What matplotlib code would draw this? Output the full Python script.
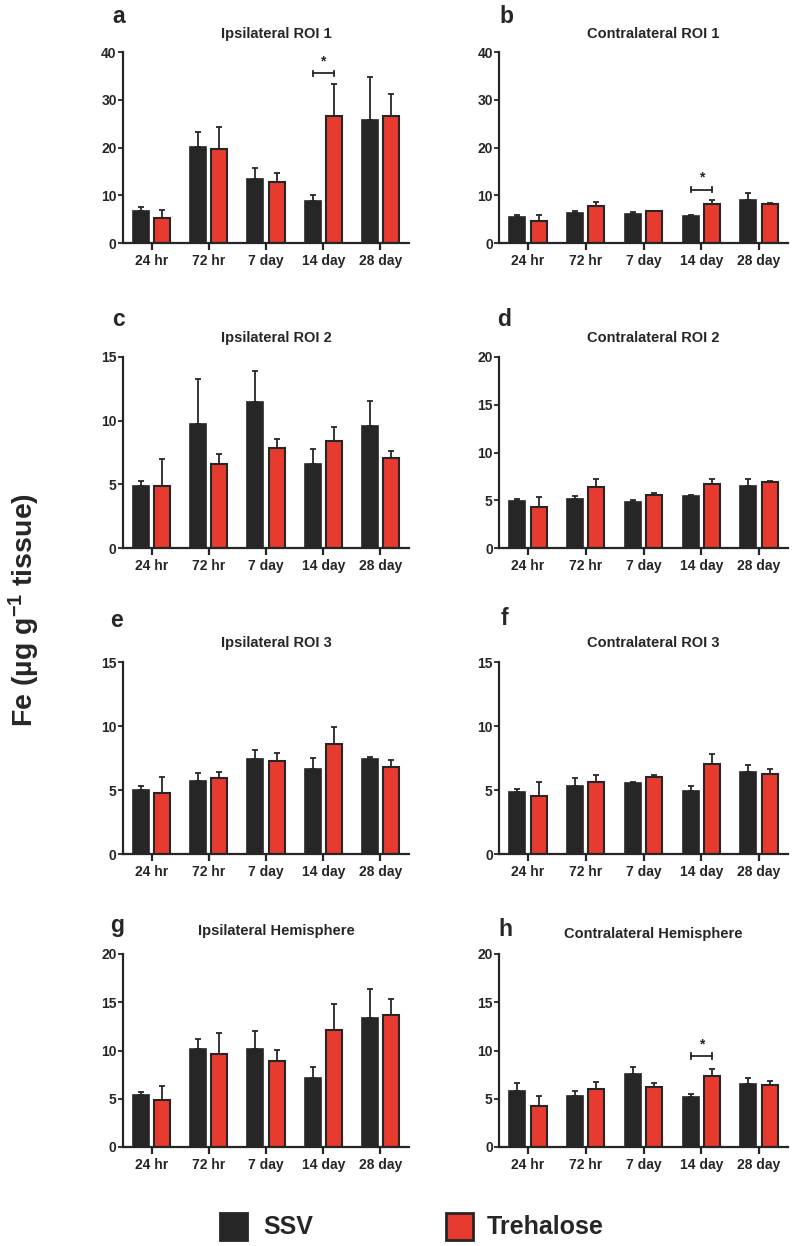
import matplotlib
matplotlib.use("Agg")
import matplotlib.pyplot as plt
from matplotlib.patches import Rectangle
import numpy as np

plt.rcParams['font.family'] = ['Liberation Sans', 'DejaVu Sans']
plt.rcParams['font.weight'] = 'bold'
plt.rcParams['mathtext.fontset'] = 'custom'
plt.rcParams['mathtext.rm'] = 'Liberation Sans:bold'
plt.rcParams['mathtext.it'] = 'Liberation Sans:bold'
plt.rcParams['mathtext.bf'] = 'Liberation Sans:bold'

categories = ["24 hr", "72 hr", "7 day", "14 day", "28 day"]
series_names = ["SSV", "Trehalose"]

titles = ["Ipsilateral ROI 1", "Contralateral ROI 1",
          "Ipsilateral ROI 2", "Contralateral ROI 2",
          "Ipsilateral ROI 3", "Contralateral ROI 3",
          "Ipsilateral Hemisphere", "Contralateral Hemisphere"]
letters = ["a", "b", "c", "d", "e", "f", "g", "h"]
ymaxes = [40, 40, 15, 20, 15, 15, 20, 20]
ysteps = [10, 10, 5, 5, 5, 5, 5, 5]

# panel a
ssv_a = [6.6, 20.2, 13.3, 8.9, 25.8]
ssv_a_err = [1.0, 3.1, 2.5, 1.2, 9.0]
tre_a = [5.2, 19.6, 12.7, 26.6, 26.6]
tre_a_err = [1.7, 4.6, 2.0, 6.6, 4.7]
# panel b
ssv_b = [5.5, 6.2, 6.1, 5.6, 9.0]
ssv_b_err = [0.3, 0.45, 0.4, 0.2, 1.5]
tre_b = [4.6, 7.7, 6.6, 8.2, 8.2]
tre_b_err = [1.25, 0.9, 0.2, 0.8, 0.1]
# panel c
ssv_c = [4.88, 9.7, 11.43, 6.57, 9.6]
ssv_c_err = [0.39, 3.55, 2.45, 1.23, 1.96]
tre_c = [4.83, 6.6, 7.88, 8.4, 7.07]
tre_c_err = [2.14, 0.8, 0.65, 1.07, 0.57]
# panel d
ssv_d = [4.94, 5.08, 4.83, 5.43, 6.47]
ssv_d_err = [0.21, 0.38, 0.17, 0.1, 0.73]
tre_d = [4.31, 6.4, 5.6, 6.68, 6.89]
tre_d_err = [1.08, 0.83, 0.2, 0.55, 0.17]
# panel e
ssv_e = [4.97, 5.7, 7.4, 6.64, 7.4]
ssv_e_err = [0.34, 0.6, 0.7, 0.86, 0.18]
tre_e = [4.79, 5.91, 7.29, 8.62, 6.8]
tre_e_err = [1.25, 0.49, 0.63, 1.28, 0.54]
# panel f
ssv_f = [4.87, 5.31, 5.52, 4.95, 6.4]
ssv_f_err = [0.23, 0.65, 0.08, 0.34, 0.55]
tre_f = [4.53, 5.65, 6.02, 7.03, 6.28]
tre_f_err = [1.1, 0.55, 0.18, 0.78, 0.33]
# panel g
ssv_g = [5.37, 10.2, 10.2, 7.1, 13.38]
ssv_g_err = [0.28, 1.0, 1.86, 1.15, 2.98]
tre_g = [4.89, 9.67, 8.94, 12.1, 13.69]
tre_g_err = [1.45, 2.13, 1.16, 2.67, 1.67]
# panel h
ssv_h = [5.79, 5.28, 7.52, 5.21, 6.55]
ssv_h_err = [0.87, 0.48, 0.82, 0.24, 0.62]
tre_h = [4.24, 5.97, 6.2, 7.31, 6.45]
tre_h_err = [1.04, 0.72, 0.42, 0.79, 0.38]

ssv_all = [ssv_a, ssv_b, ssv_c, ssv_d, ssv_e, ssv_f, ssv_g, ssv_h]
ssv_err_all = [ssv_a_err, ssv_b_err, ssv_c_err, ssv_d_err, ssv_e_err, ssv_f_err, ssv_g_err, ssv_h_err]
tre_all = [tre_a, tre_b, tre_c, tre_d, tre_e, tre_f, tre_g, tre_h]
tre_err_all = [tre_a_err, tre_b_err, tre_c_err, tre_d_err, tre_e_err, tre_f_err, tre_g_err, tre_h_err]

# significance: panel index -> (category index, bracket height)
sig_panels = {0: (3, 35.5), 1: (3, 11.2), 7: (3, 9.4)}

C_SSV = "#262626"
C_TRE = "#E83B30"

W, H = 793, 1246
fig = plt.figure(figsize=(W / 100, H / 100), dpi=100)

col_left = [123, 499]
col_width = [286, 289]
row_top = [52, 357, 662, 954]
row_bot = [243, 548, 854, 1147]
# layout of text (pixels): title baseline gap above axes, letter baseline gap, letter x
title_gap = [14, 14, 15, 15, 15, 15, 19, 16]
letter_gap = [29, 29, 31, 31, 35, 37, 22, 18]
letter_x = [112, 499, 112, 497, 110, 501, 110, 498]

bw = 0.28
off = 0.185

for i in range(8):
    r, c = divmod(i, 2)
    l = col_left[c] / W
    b = 1 - row_bot[r] / H
    w = col_width[c] / W
    hp = row_bot[r] - row_top[r]
    h = hp / H
    ax = fig.add_axes([l, b, w, h])
    x = np.arange(len(categories))
    ax.errorbar(x - off, ssv_all[i], yerr=[np.zeros(5), ssv_err_all[i]], fmt='none',
                ecolor=C_SSV, elinewidth=1.3, capsize=2.5, capthick=1.3, zorder=1)
    ax.errorbar(x + off, tre_all[i], yerr=[np.zeros(5), tre_err_all[i]], fmt='none',
                ecolor=C_SSV, elinewidth=1.3, capsize=2.5, capthick=1.3, zorder=1)
    ax.bar(x - off, ssv_all[i], width=bw, color=C_SSV, edgecolor=C_SSV, linewidth=1.2, zorder=2)
    ax.bar(x + off, tre_all[i], width=bw, color=C_TRE, edgecolor=C_SSV, linewidth=1.5, zorder=2)
    ax.set_xlim(-0.5, 4.5)
    ax.set_ylim(0, ymaxes[i])
    ax.set_yticks(np.arange(0, ymaxes[i] + 0.1, ysteps[i]))
    ax.set_xticks(x)
    ax.set_xticklabels(categories)
    for s in ['top', 'right']:
        ax.spines[s].set_visible(False)
    for s in ['left', 'bottom']:
        ax.spines[s].set_linewidth(1.6)
        ax.spines[s].set_color(C_SSV)
    ax.tick_params(axis='x', direction='out', length=5, width=1.6, color=C_SSV,
                   labelsize=10, pad=3, labelcolor=C_SSV)
    ax.tick_params(axis='y', direction='out', length=3.5, width=1.3, color=C_SSV,
                   labelsize=10, pad=1, labelcolor=C_SSV)
    for t in ax.get_xticklabels() + ax.get_yticklabels():
        t.set_fontweight('bold')
    ax.text(0.535, 1 + title_gap[i] / hp, titles[i], transform=ax.transAxes,
            fontsize=10.5, fontweight='bold', color=C_SSV, ha='center', va='baseline')
    ax.text((letter_x[i] - col_left[c]) / col_width[c], 1 + letter_gap[i] / hp, letters[i],
            transform=ax.transAxes, fontsize=16.5, fontweight='bold',
            color=C_SSV, ha='left', va='baseline')
    if i in sig_panels:
        k, yb = sig_panels[i]
        ym = ymaxes[i]
        cap = ym * 0.015
        ax.plot([k - off, k + off], [yb, yb], color=C_SSV, lw=1.3, clip_on=False)
        ax.plot([k - off, k - off], [yb - cap, yb + cap], color=C_SSV, lw=1.3, clip_on=False)
        ax.plot([k + off, k + off], [yb - cap, yb + cap], color=C_SSV, lw=1.3, clip_on=False)
        ax.text(k, yb + ym * 0.025, "*", ha='center', va='bottom', fontsize=10,
                fontweight='bold', color=C_SSV)

fig.text(24 / W, 1 - 610 / H, "Fe (\u00b5g g$^{\\mathregular{-1}}$ tissue)",
         rotation=90, ha='center', va='center', fontsize=20.5, fontweight='bold', color=C_SSV)

# legend
for (sx, tx, col, name) in [(220, 263, C_SSV, series_names[0]), (446, 487, C_TRE, series_names[1])]:
    fig.patches.append(Rectangle((sx / W, 1 - 1240 / H), 27 / W, 27 / H,
                                 transform=fig.transFigure, facecolor=col,
                                 edgecolor=C_SSV, linewidth=2.0))
    fig.text(tx / W, 1 - 1227 / H, name, fontsize=18, fontweight='bold',
             color=C_SSV, ha='left', va='center')

fig.savefig("out.png", dpi=100, facecolor='white')
